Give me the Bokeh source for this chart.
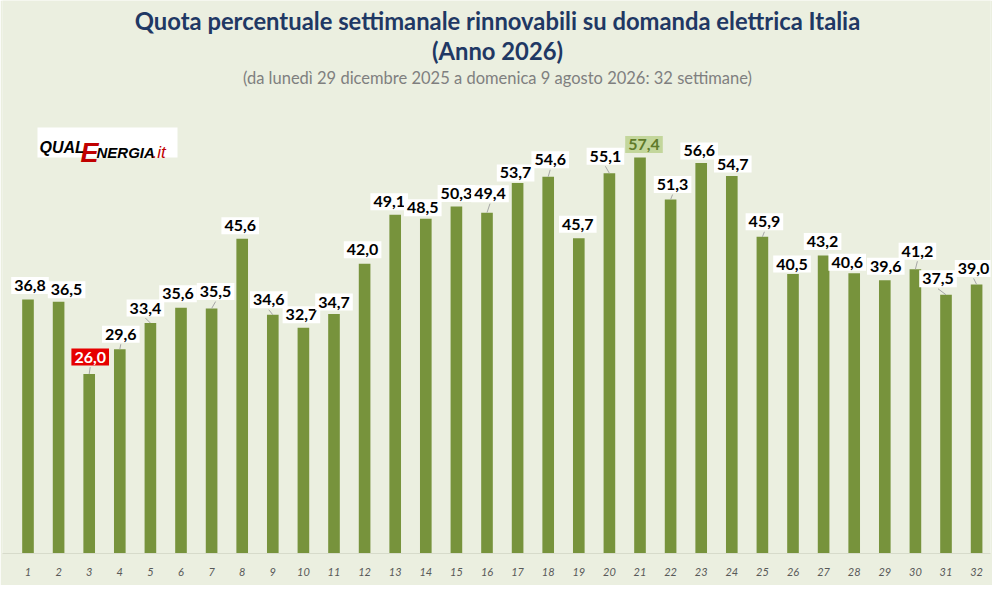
from bokeh.plotting import figure
from bokeh.models import ColumnDataSource, FixedTicker, Range1d
from bokeh.core.properties import value
from bokeh.embed import file_html
from bokeh.resources import INLINE

# ---- data ----
weeks = list(range(1, 33))
quota = [36.8, 36.5, 26.0, 29.6, 33.4, 35.6, 35.5, 45.6, 34.6, 32.7, 34.7, 42.0,
         49.1, 48.5, 50.3, 49.4, 53.7, 54.6, 45.7, 55.1, 57.4, 51.3, 56.6, 54.7,
         45.9, 40.5, 43.2, 40.6, 39.6, 41.2, 37.5, 39.0]
tick_labels = [str(w) for w in weeks]
title_1 = "Quota percentuale settimanale rinnovabili su domanda elettrica Italia"
title_2 = "(Anno 2026)"
subtitle = "(da lunedì 29 dicembre 2025 a domenica 9 agosto 2026: 32 settimane)"

# ---- layout of the value labels (pixel nudges from bar top, as placed in the original) ----
label_dx_px = [2, 8, 1, 1, -5, -3, 4, -2, -4, -2, 0, -2, -6, -3, 0, 3,
               -2, 2, -1, -4, 4, 2, -2, 1, 2, -1, -1, -7, 1, 2, -8, -3]
label_dy_px = [-14, -12, -17, -15, -15, -14, -17, -13, -15, -13, -12, -14, -13, -11, -13, -19,
               -10, -17, -14, -17, -13, -15, -12, -12, -15, -10, -14, -11, -14, -18, -16, -16]

BG = "#ebefe0"
BAR = "#77933c"
FONT = "Lato"

W, H = 992, 585
PX_PER_X = 30.6     # pixels per week
PX_PER_Y = 6.9      # pixels per percentage point
BASE_PX = 553       # baseline, canvas coordinates
X1_PX = 27.5        # centre of week 1, canvas coordinates

def dx(px):
    return 1 + (px - X1_PX) / PX_PER_X

def dy(py):
    return (BASE_PX - py) / PX_PER_Y

p = figure(width=W, height=H, output_backend="svg", toolbar_location=None,
           min_border_left=2, min_border_right=2, min_border_top=0,
           min_border_bottom=H - BASE_PX,
           x_range=Range1d(dx(2), dx(W - 2)), y_range=Range1d(0, dy(0)))
p.background_fill_color = BG
p.border_fill_color = BG
p.outline_line_color = None
p.grid.visible = False
p.yaxis.visible = False

p.xaxis.ticker = FixedTicker(ticks=weeks)
p.xaxis.major_label_overrides = {w: t for w, t in zip(weeks, tick_labels)}
p.xaxis.major_tick_line_color = None
p.xaxis.minor_tick_line_color = None
p.xaxis.axis_line_color = "#d7dbcb"
p.xaxis.major_label_text_font = FONT
p.xaxis.major_label_text_font_style = "italic"
p.xaxis.major_label_text_font_size = "11px"
p.xaxis.major_label_text_color = "#595959"
p.xaxis.major_label_standoff = 8

src = ColumnDataSource(dict(x=weeks, top=quota))
p.vbar(x="x", top="top", width=0.38, bottom=0, source=src, fill_color=BAR, line_color=None)

# ---- value labels ----
imin = quota.index(min(quota))
imax = quota.index(max(quota))
lab_bg, lab_col = [], []
for i in range(len(quota)):
    if i == imin:
        lab_bg.append("#e60000"); lab_col.append("white")
    elif i == imax:
        lab_bg.append("#c3d69b"); lab_col.append("#5f7a2a")
    else:
        lab_bg.append("white"); lab_col.append("black")

lx = [w + ddx / PX_PER_X for w, ddx in zip(weeks, label_dx_px)]
ly = [v - ddy / PX_PER_Y for v, ddy in zip(quota, label_dy_px)]

# leader lines where the label sits away from its bar
sx0, sy0, sx1, sy1 = [], [], [], []
for w, v, x, y, ddy in zip(weeks, quota, lx, ly, label_dy_px):
    if ddy <= -15:
        sx0.append(w); sy0.append(v)
        sx1.append(x); sy1.append(y - 10 / PX_PER_Y)
p.segment(x0=sx0, y0=sy0, x1=sx1, y1=sy1, line_color="#a6a6a6", line_width=1)

lsrc = ColumnDataSource(dict(x=lx, y=ly,
                             t=[f"{v:.1f}".replace(".", ",") for v in quota],
                             bg=lab_bg, col=lab_col))
p.text(x="x", y="y", text="t", source=lsrc, text_align="center", text_baseline="middle",
       text_font=value(FONT), text_font_style="bold", text_font_size="16px",
       text_color="col", background_fill_color="bg", padding=3)

# ---- titles ----
cx = dx(497)
p.text(x=[cx], y=[dy(20)], text=[title_1], text_align="center", text_baseline="middle",
       text_font=value(FONT), text_font_style="bold", text_font_size="23.8px", text_color="#1f3864")
p.text(x=[cx], y=[dy(50)], text=[title_2], text_align="center", text_baseline="middle",
       text_font=value(FONT), text_font_style="bold", text_font_size="23.8px", text_color="#1f3864")
p.text(x=[cx], y=[dy(77)], text=[subtitle], text_align="center", text_baseline="middle",
       text_font=value(FONT), text_font_size="16.5px", text_color="#7f7f7f")

# ---- logo ----
p.quad(left=[dx(37)], right=[dx(177)], bottom=[dy(157)], top=[dy(127)],
       fill_color="white", line_color=None)
logo_font = value("Liberation Sans")
p.text(x=[dx(39)], y=[dy(147)], text=["QUAL"], text_align="left", text_baseline="alphabetic",
       text_font=logo_font, text_font_style="bold italic", text_font_size="16px", text_color="black")
p.text(x=[dx(80)], y=[dy(152)], text=["E"], text_align="left", text_baseline="alphabetic",
       text_font=logo_font, text_font_style="bold italic", text_font_size="27px", text_color="#c00000")
p.text(x=[dx(96)], y=[dy(152)], text=["NERGIA"], text_align="left", text_baseline="alphabetic",
       text_font=logo_font, text_font_style="bold italic", text_font_size="15px", text_color="black")
p.text(x=[dx(152)], y=[dy(152)], text=[".it"], text_align="left", text_baseline="alphabetic",
       text_font=logo_font, text_font_style="italic", text_font_size="17px", text_color="#c00000")

open("out.html", "w").write(file_html(p, INLINE))
